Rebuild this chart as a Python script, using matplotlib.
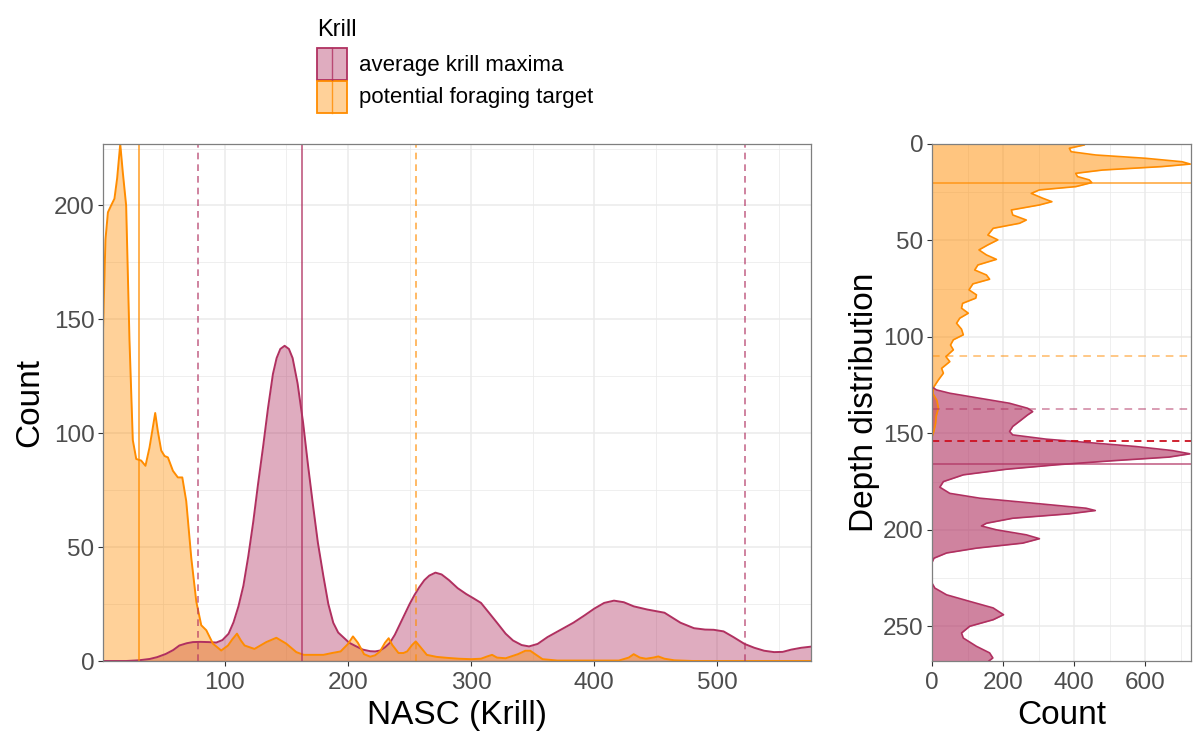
import matplotlib.pyplot as plt
from matplotlib.patches import Rectangle
from matplotlib.lines import Line2D
from matplotlib.ticker import MultipleLocator

plt.rcParams['font.family'] = ['Liberation Sans', 'DejaVu Sans']

MAROON = '#B03060'
ORANGE = '#FF8C00'
GRID = '#EBEBEB'
TICKC = '#4D4D4D'

# NASC density (counts) for each group
nasc_foraging = [1, 3, 5, 7.6, 10.3, 12.5, 15, 17, 19.8, 22.5,
                 25.2, 28, 32, 35.5, 38.8, 41, 43.4, 45.5, 48.3, 51,
                 53.7, 57.8, 61.8, 65.4, 68.6, 72.7, 76.8, 80.8, 84.9, 90.3,
                 97, 102.5, 106, 109.8, 113, 116, 124, 133.6, 141.8, 149.9,
                 158, 164, 172, 180, 187, 194, 200, 204, 208, 213,
                 218, 222, 226, 230, 233, 236, 241, 245, 248, 252,
                 255, 259, 264, 272, 280, 290, 300, 308, 313, 317,
                 321, 328, 338, 344, 348, 352, 358, 370, 420, 428,
                 432, 437, 442, 448, 452, 457, 465, 480, 576]
cnt_foraging = [145, 185, 197, 200, 203, 212, 227, 215, 200, 141,
                97, 88.7, 88, 85.7, 93.8, 101, 108.9, 101, 92.4, 90,
                89.4, 83.5, 80.6, 80.6, 70.2, 45.2, 26, 15.7, 13.5, 7.6,
                4.6, 6.8, 9.5, 12, 9, 6.8, 5.3, 8.3, 10.2, 7.6,
                3.9, 2.7, 2.7, 2.7, 3.5, 4.2, 7.5, 10.8, 8, 3,
                1.9, 2.5, 4.2, 8, 10, 7, 3.5, 3.5, 4.2, 7,
                8.6, 6, 2.7, 1.8, 1.4, 1, 0.8, 1, 2, 2.7,
                1.5, 1.2, 3, 4.5, 4.5, 3, 0.8, 0.2, 0.2, 1.5,
                3, 1.5, 1, 1.5, 2, 1, 0.3, 0, 0]

nasc_maxima = [1, 20, 30, 39, 45, 52, 58, 63, 69, 74,
               80, 87, 93, 98, 103, 107, 111, 115, 119, 123,
               127, 131, 135, 139, 142, 145, 148.5, 152, 155, 159,
               163.5, 167.5, 171.5, 175.5, 180, 184, 188, 192, 196, 201,
               206, 212, 218, 222, 226, 230, 234, 238, 242, 246,
               250, 254, 258, 262, 266, 271, 276, 282, 289, 296,
               302, 308, 314, 321, 328, 334, 341, 347, 354, 362,
               372, 383, 392, 400, 408, 416, 424, 432, 443, 457,
               470, 481, 490, 497, 505, 513, 522, 530, 538, 546,
               553, 560, 568, 576]
cnt_maxima = [0, 0, 0.3, 0.9, 1.7, 3.1, 4.8, 6.8, 7.8, 8.3,
              8.4, 8.3, 8.1, 9.2, 12, 17, 24, 33, 46, 61,
              78, 94, 111, 126, 133, 137, 138.4, 137, 133, 122,
              104.7, 86, 68.6, 52, 37.2, 25, 16.8, 12.5, 10.5, 8,
              6.6, 5, 4.3, 4.2, 4.6, 6, 8, 11.5, 16, 20.5,
              25, 29, 32.5, 35.5, 37.5, 38.8, 38, 35.5, 32, 29.4,
              27.5, 25.5, 21.5, 16.8, 12, 9, 7, 6.4, 7.5, 10.5,
              13.5, 16.8, 20, 23, 25.5, 26.5, 25.8, 24, 22.6, 21.2,
              16.8, 14.4, 13.8, 13.7, 13, 10.5, 7.5, 5.8, 4.5, 3.9,
              4, 5, 5.8, 6.3]

# depth profiles (counts by depth)
depth_foraging = [0, 0.5, 2.2, 4, 5.7, 7.4, 9.2, 10.4, 11.7, 13.5,
                  15.2, 16.9, 18.6, 20, 22.1, 23.8, 25.6, 28.1, 29.9, 31.6,
                  34.2, 36.8, 39.4, 41.1, 43.7, 47.2, 49.7, 52.3, 54.9, 57.5,
                  59.8, 62.7, 65.3, 67.9, 70.1, 72.5, 75.6, 78.2, 79.9, 82.6,
                  85.1, 87.7, 90.3, 92.9, 96, 98.9, 101.5, 104.2, 106.7, 110.2,
                  112.8, 116.3, 118.8, 122.3, 125.8, 129.2, 133, 137, 141, 145,
                  149, 152, 268]
cnt_depth_foraging = [430, 428, 386, 391, 460, 600, 703, 726, 647, 479,
                      404, 409, 442, 449, 404, 302, 279, 311, 337, 302,
                      223, 227, 265, 246, 172, 157, 185, 157, 132, 153,
                      181, 129, 120, 153, 162, 115, 104, 125, 123, 86,
                      83, 102, 78, 69, 83, 88, 60, 52, 60, 39,
                      50, 27, 32, 18, 5.6, 2, 14, 18, 12, 10,
                      5, 0, 0]

depth_maxima = [126, 127.5, 129.2, 131.8, 134.4, 137, 138.7, 140.4, 143, 146.4,
                149, 150.8, 153, 155.1, 156.8, 158.9, 160.6, 162.3, 164.2, 166.3,
                168.6, 171.5, 175, 177.9, 181.1, 183.6, 186.5, 188.8, 190, 191.7,
                194, 196.6, 198, 200, 202.6, 204.6, 206.9, 209.5, 212, 214.7,
                216.9, 227.6, 230.2, 233.7, 237.1, 240.5, 244, 246.6, 250, 253.5,
                256.1, 260.4, 263.8, 266.4, 268]
cnt_depth_maxima = [0, 13, 50, 134, 218, 269, 283, 269, 251, 227,
                    218, 227, 321, 461, 572, 675, 725, 666, 507, 349,
                    209, 88, 32, 22, 50, 134, 302, 433, 459, 386,
                    227, 153, 139, 181, 265, 302, 255, 125, 41, 5.6,
                    0, 0, 8, 41, 106, 172, 201, 172, 106, 83,
                    88, 125, 162, 171, 160]

# reference lines
vline_foraging_mean = 30
vline_foraging_q = 255
vline_maxima_mean = 162.5
vline_maxima_q = [78, 522]
hline_foraging_mean = 20
hline_foraging_q = 110
hline_maxima_mean = 166
hline_maxima_q = 137.5
hline_overall = 154

W, H = 1193, 733
fig = plt.figure(figsize=(W / 100, H / 100), dpi=100)
ax = fig.add_axes([103 / W, (H - 661) / H, (811 - 103) / W, (661 - 144) / H])
ax2 = fig.add_axes([932 / W, (H - 661) / H, (1191 - 932) / W, (661 - 144) / H])


def style(a):
    a.set_axisbelow(True)
    a.grid(which='major', color=GRID, linewidth=1.1)
    a.grid(which='minor', color=GRID, linewidth=0.55)
    for s in a.spines.values():
        s.set_color('#7F7F7F')
        s.set_linewidth(0.9)
    a.tick_params(which='major', length=3.6, width=0.8, color='#333333',
                  labelsize=17.5, labelcolor=TICKC, pad=2.5)
    a.tick_params(axis='x', which='major', pad=4.5)
    a.tick_params(which='minor', length=0)


# NASC panel
ax.fill_between(nasc_maxima, cnt_maxima, color=MAROON, alpha=0.4, linewidth=0)
ax.plot(nasc_maxima, cnt_maxima, color=MAROON, linewidth=1.4)
ax.fill_between(nasc_foraging, cnt_foraging, color=ORANGE, alpha=0.4, linewidth=0)
ax.plot(nasc_foraging, cnt_foraging, color=ORANGE, linewidth=1.4)
ax.axvline(vline_foraging_mean, color=ORANGE, linewidth=1.2, alpha=0.8)
ax.axvline(vline_foraging_q, color=ORANGE, linewidth=1.2, alpha=0.7, linestyle=(0, (4, 3)))
ax.axvline(vline_maxima_mean, color=MAROON, linewidth=1.2, alpha=0.8)
for v in vline_maxima_q:
    ax.axvline(v, color=MAROON, linewidth=1.2, alpha=0.7, linestyle=(0, (4, 3)))
ax.set_xlim(1, 576)
ax.set_ylim(0, 227)
ax.xaxis.set_major_locator(MultipleLocator(100))
ax.xaxis.set_minor_locator(MultipleLocator(50))
ax.yaxis.set_major_locator(MultipleLocator(50))
ax.yaxis.set_minor_locator(MultipleLocator(25))
style(ax)
ax.set_xlabel('NASC (Krill)', fontsize=24, labelpad=4)
ax.set_ylabel('Count', fontsize=24, labelpad=6)

# depth panel
ax2.fill_betweenx(depth_foraging, cnt_depth_foraging, color=ORANGE, alpha=0.5, linewidth=0)
ax2.plot(cnt_depth_foraging, depth_foraging, color=ORANGE, linewidth=1.2)
ax2.fill_betweenx(depth_maxima, cnt_depth_maxima, color=MAROON, alpha=0.6, linewidth=0)
ax2.plot(cnt_depth_maxima, depth_maxima, color=MAROON, linewidth=1.2)
ax2.axhline(hline_foraging_mean, color=ORANGE, linewidth=1.1, alpha=0.8)
ax2.axhline(hline_foraging_q, color=ORANGE, linewidth=1.1, alpha=0.6, linestyle=(0, (5, 4)))
ax2.axhline(hline_maxima_mean, color=MAROON, linewidth=1.1, alpha=0.8)
ax2.axhline(hline_maxima_q, color=MAROON, linewidth=1.1, alpha=0.6, linestyle=(0, (5, 4)))
ax2.axhline(hline_overall, color='#CC1020', linewidth=1.3, linestyle=(0, (4, 3)))
ax2.set_xlim(0, 728)
ax2.set_ylim(268, 0)
ax2.xaxis.set_major_locator(MultipleLocator(200))
ax2.xaxis.set_minor_locator(MultipleLocator(100))
ax2.yaxis.set_major_locator(MultipleLocator(50))
ax2.yaxis.set_minor_locator(MultipleLocator(25))
style(ax2)
ax2.set_xlabel('Count', fontsize=24, labelpad=4)
ax2.set_ylabel('Depth distribution', fontsize=24, labelpad=2)

# legend
fig.text(317 / W, 1 - 30 / H, 'Krill', fontsize=17, va='center', ha='left')
entries = [('average krill maxima', MAROON), ('potential foraging target', ORANGE)]
for i, (lab, col) in enumerate(entries):
    top = 48 + i * 33
    fig.add_artist(Rectangle((317 / W, 1 - (top + 32) / H), 30 / W, 32 / H,
                             transform=fig.transFigure, facecolor=col, alpha=0.4,
                             edgecolor='none'))
    fig.add_artist(Rectangle((317 / W, 1 - (top + 32) / H), 30 / W, 32 / H,
                             transform=fig.transFigure, facecolor='none',
                             edgecolor=col, linewidth=1.3))
    fig.add_artist(Line2D([332 / W, 332 / W], [1 - (top + 32) / H, 1 - top / H],
                          transform=fig.transFigure, color=col, linewidth=1, alpha=0.8))
    fig.text(359 / W, 1 - (top + 17) / H, lab, fontsize=16, va='center', ha='left')

fig.savefig('out.png', dpi=100)
